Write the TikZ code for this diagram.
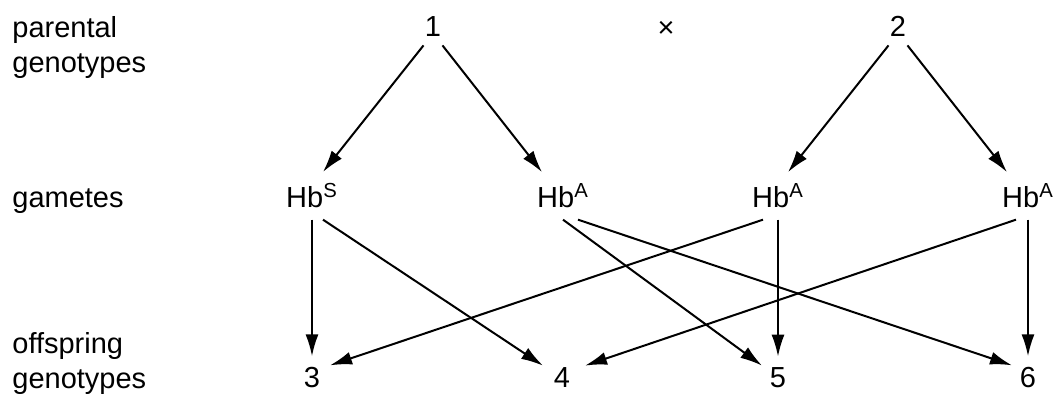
\documentclass[tikz,border=0pt]{standalone}
\usepackage{fontspec}
\setmainfont{Liberation Sans}
\usetikzlibrary{arrows.meta,positioning}

\begin{document}
\begin{tikzpicture}[
  x=0.5pt, y=-0.5pt,
  lab/.style={font=\fontsize{14.5}{17.5}\selectfont, align=left, inner sep=0pt},
  parent/.style={font=\fontsize{14.5}{17.5}\selectfont, inner xsep=0.5pt, inner ysep=4pt, anchor=base},
  gamete/.style={font=\fontsize{14.5}{17.5}\selectfont, inner xsep=0.5pt, inner ysep=5.5pt, anchor=base},
  child/.style={font=\fontsize{14.5}{17.5}\selectfont, inner xsep=0.5pt, inner ysep=1pt, anchor=base},
  link/.style={line width=1pt, -{Latex[length=11pt, width=6.5pt]}},
]
\useasboundingbox (0,0) rectangle (1056,394);
% Row labels
\node[lab, anchor=north west] (lpar) at (12,16) {parental\\genotypes};
\node[lab, anchor=base west] (lgam) at (12,208) {gametes};
\node[lab, anchor=north west] (loff) at (12,332) {offspring\\genotypes};
% Parents
\node[parent] (p1) at (433,37) {1};
\node[parent] (p2) at (898,37) {2};
\node[font=\fontsize{14.5}{17.5}\selectfont, inner sep=0pt] (cross) at (666,29) {×};
% Gametes
\node[gamete] (gS) at (312,208) {Hb\textsuperscript{S}};
\node[gamete] (gA1) at (563,208) {Hb\textsuperscript{A}};
\node[gamete] (gA2) at (778,208) {Hb\textsuperscript{A}};
\node[gamete] (gA3) at (1028,208) {Hb\textsuperscript{A}};
% Offspring
\node[child] (o3) at (312,388) {3};
\node[child] (o4) at (562,388) {4};
\node[child] (o5) at (778,388) {5};
\node[child] (o6) at (1028,388) {6};
% Parents to gametes
\draw[link] (p1.south west) -- ([shift={(11,0)}]gS.north);
\draw[link] (p1.south east) -- ([shift={(-21,0)}]gA1.north);
\draw[link] (p2.south west) -- ([shift={(10,0)}]gA2.north);
\draw[link] (p2.south east) -- ([shift={(-21,0)}]gA3.north);
% Gametes to offspring
\draw[link] (gS.south) -- ([shift={(0,-9)}]o3.north);
\draw[link] ([shift={(11,0)}]gS.south) -- ([shift={(-19,0)}]o4.north);
\draw[link] (gA1.south) -- ([shift={(-16,0)}]o5.north);
\draw[link] ([shift={(15,0)}]gA1.south) -- ([shift={(-16,0)}]o6.north);
\draw[link] ([shift={(-15,0)}]gA2.south) -- ([shift={(18,0)}]o3.north);
\draw[link] (gA2.south) -- ([shift={(0,-9)}]o5.north);
\draw[link] ([shift={(-12,0)}]gA3.south) -- ([shift={(23,0)}]o4.north);
\draw[link] (gA3.south) -- ([shift={(0,-9)}]o6.north);
\end{tikzpicture}
\end{document}
